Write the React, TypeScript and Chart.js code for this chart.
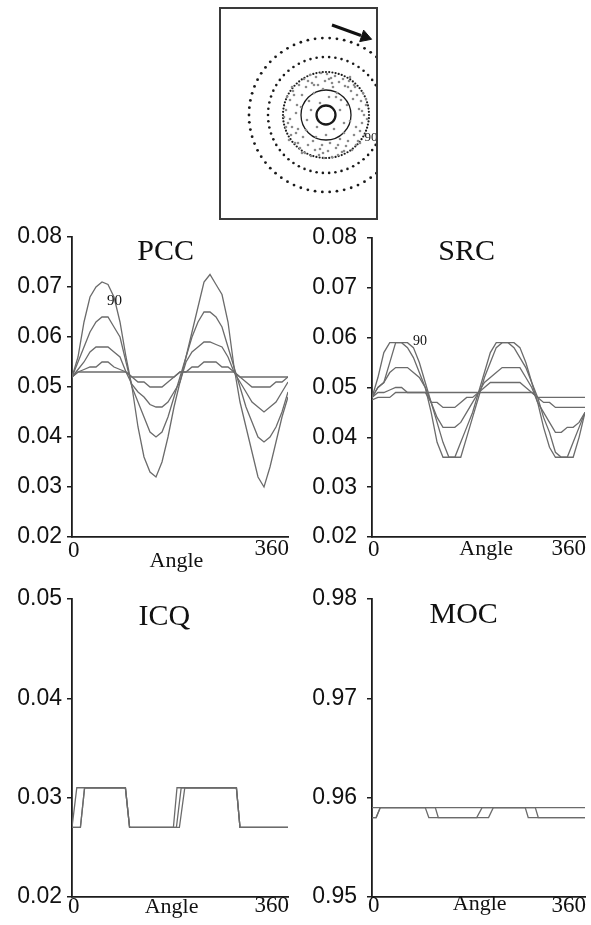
import React, { useEffect, useRef } from "react";
import { Chart, registerables } from "chart.js";
Chart.register(...registerables);

// ---------- data ----------
const angles = [0, 10, 20, 30, 40, 50, 60, 70, 80, 90, 100, 110, 120, 130, 140, 150, 160, 170, 180, 190, 200, 210, 220, 230, 240, 250, 260, 270, 280, 290, 300, 310, 320, 330, 340, 350, 360];

const pccA = [0.052, 0.056, 0.063, 0.068, 0.070, 0.071, 0.0705, 0.068, 0.063, 0.056, 0.050, 0.042, 0.036, 0.033, 0.032, 0.035, 0.040, 0.046, 0.051, 0.056, 0.061, 0.066, 0.071, 0.0725, 0.0705, 0.0685, 0.063, 0.054, 0.047, 0.042, 0.037, 0.032, 0.030, 0.034, 0.039, 0.044, 0.048];
const pccB = [0.052, 0.055, 0.058, 0.061, 0.063, 0.064, 0.064, 0.062, 0.060, 0.055, 0.050, 0.047, 0.044, 0.041, 0.040, 0.041, 0.044, 0.048, 0.052, 0.056, 0.060, 0.063, 0.065, 0.065, 0.064, 0.062, 0.058, 0.054, 0.050, 0.046, 0.043, 0.040, 0.039, 0.040, 0.042, 0.045, 0.049];
const pccC = [0.052, 0.0535, 0.055, 0.057, 0.058, 0.058, 0.058, 0.057, 0.056, 0.053, 0.0505, 0.049, 0.048, 0.0465, 0.046, 0.046, 0.047, 0.049, 0.051, 0.055, 0.057, 0.058, 0.059, 0.059, 0.0585, 0.058, 0.056, 0.053, 0.051, 0.049, 0.047, 0.046, 0.045, 0.046, 0.047, 0.049, 0.051];
const pccD = [0.052, 0.053, 0.0535, 0.054, 0.054, 0.055, 0.055, 0.054, 0.0535, 0.053, 0.052, 0.051, 0.051, 0.050, 0.050, 0.050, 0.051, 0.052, 0.053, 0.053, 0.054, 0.054, 0.055, 0.055, 0.055, 0.054, 0.054, 0.053, 0.052, 0.051, 0.050, 0.050, 0.050, 0.050, 0.051, 0.051, 0.052];
const pccE = [0.052, 0.053, 0.053, 0.053, 0.053, 0.053, 0.053, 0.053, 0.053, 0.053, 0.052, 0.052, 0.052, 0.052, 0.052, 0.052, 0.052, 0.052, 0.053, 0.053, 0.053, 0.053, 0.053, 0.053, 0.053, 0.053, 0.053, 0.053, 0.052, 0.052, 0.052, 0.052, 0.052, 0.052, 0.052, 0.052, 0.052];

const srcA = [0.048, 0.052, 0.057, 0.059, 0.059, 0.059, 0.058, 0.056, 0.053, 0.050, 0.045, 0.039, 0.036, 0.036, 0.036, 0.039, 0.042, 0.045, 0.049, 0.053, 0.057, 0.059, 0.059, 0.059, 0.058, 0.056, 0.054, 0.051, 0.047, 0.042, 0.038, 0.036, 0.036, 0.036, 0.039, 0.042, 0.045];
const srcB = [0.048, 0.050, 0.051, 0.055, 0.059, 0.059, 0.059, 0.058, 0.055, 0.051, 0.047, 0.043, 0.039, 0.036, 0.036, 0.036, 0.040, 0.044, 0.048, 0.052, 0.055, 0.058, 0.059, 0.059, 0.059, 0.058, 0.055, 0.051, 0.048, 0.044, 0.041, 0.037, 0.036, 0.036, 0.036, 0.040, 0.045];
const srcC = [0.048, 0.050, 0.051, 0.053, 0.054, 0.054, 0.054, 0.053, 0.052, 0.050, 0.047, 0.044, 0.042, 0.042, 0.042, 0.043, 0.045, 0.047, 0.049, 0.051, 0.052, 0.053, 0.054, 0.054, 0.054, 0.054, 0.052, 0.050, 0.047, 0.045, 0.043, 0.041, 0.041, 0.042, 0.042, 0.043, 0.045];
const srcD = [0.048, 0.049, 0.049, 0.0495, 0.050, 0.050, 0.049, 0.049, 0.049, 0.049, 0.047, 0.047, 0.046, 0.046, 0.046, 0.047, 0.048, 0.048, 0.049, 0.050, 0.051, 0.051, 0.051, 0.051, 0.051, 0.051, 0.050, 0.049, 0.048, 0.047, 0.047, 0.046, 0.046, 0.046, 0.046, 0.046, 0.046];
const srcE = [0.0475, 0.048, 0.048, 0.048, 0.049, 0.049, 0.049, 0.049, 0.049, 0.049, 0.049, 0.049, 0.049, 0.049, 0.049, 0.049, 0.049, 0.049, 0.049, 0.049, 0.049, 0.049, 0.049, 0.049, 0.049, 0.049, 0.049, 0.049, 0.048, 0.048, 0.048, 0.048, 0.048, 0.048, 0.048, 0.048, 0.048];

const icq1Angles = [0, 8, 89, 96, 169, 175, 274, 280, 360];
const icq1Values = [0.027, 0.031, 0.031, 0.027, 0.027, 0.031, 0.031, 0.027, 0.027];
const icq2Angles = [0, 14, 21, 89, 96, 174, 182, 274, 280, 360];
const icq2Values = [0.027, 0.027, 0.031, 0.031, 0.027, 0.027, 0.031, 0.031, 0.027, 0.027];
const icq3Angles = [0, 14, 21, 89, 96, 179, 188, 274, 280, 360];
const icq3Values = [0.027, 0.027, 0.031, 0.031, 0.027, 0.027, 0.031, 0.031, 0.027, 0.027];

const moc1Angles = [0, 360];
const moc1Values = [0.959, 0.959];
const moc2Angles = [0, 7, 14, 90, 96, 177, 186, 259, 264, 360];
const moc2Values = [0.958, 0.958, 0.959, 0.959, 0.958, 0.958, 0.959, 0.959, 0.958, 0.958];
const moc3Angles = [0, 7, 14, 107, 112, 197, 205, 276, 281, 360];
const moc3Values = [0.958, 0.958, 0.959, 0.959, 0.958, 0.958, 0.959, 0.959, 0.958, 0.958];

// inset schematic
const ringRadii = [77, 58, 43];
const ringDotCounts = [66, 58, 84];
const ringDotSizes = [1.4, 1.3, 1.1];
const solidRingRadii = [25, 9.5];
const solidRingWidths = [1.3, 2.3];
const grayDots: [number, number][] = [
  [-40, 5], [-38, -8], [-36, 15], [-35, -20], [-33, 24], [-31, -28], [-30, 2], [-29, 10], [-28, -14], [-27, 30],
  [-26, -33], [-24, 20], [-23, -22], [-22, 36], [-21, -38], [-20, 28], [-19, -5], [-18, -30], [-17, 14], [-16, 40],
  [-15, -41], [-14, 32], [-13, -26], [-12, 22], [-11, -35], [-10, 38], [-9, -12], [-8, 30], [-7, -40], [-6, 12],
  [-5, 42], [-4, -30], [-3, 26], [-2, -43], [-1, 34], [0, -20], [1, 41], [2, -36], [3, 18], [4, -28],
  [5, 37], [6, -42], [7, 28], [8, -14], [9, 39], [10, -33], [11, 22], [12, -40], [13, 33], [14, -24],
  [15, 15], [16, -37], [17, 36], [18, -18], [19, 29], [20, -31], [21, 10], [22, -26], [23, 34], [24, -6],
  [25, 24], [26, -35], [27, 16], [28, -20], [29, 28], [30, -12], [31, 20], [32, -26], [33, 6], [34, -16],
  [35, 14], [36, -8], [37, 22], [38, 0], [39, -20], [40, 10], [41, -4], [-42, -2], [-39, 18], [-37, -25],
  [-34, -12], [-32, 20], [-25, 8], [-20, -15], [-15, 5], [14, 5], [18, -8], [22, 28], [-28, -28], [28, 30],
  [-10, -22], [10, 18], [-30, -18], [30, -30], [-18, 34], [18, -36], [-6, -34], [6, 32], [-36, -4], [36, 4],
  [-24, -38], [24, 38], [-34, 28], [34, -28], [-12, 30], [12, -30], [-40, -12], [40, 16], [-3, -38], [3, 36],
];
const arrowX = [6, 35];
const arrowY = [90, 79.5];
const arrowHead = [39, 78];

// ---------- styling ----------
const SERIF = '"Liberation Serif", "Times New Roman", serif';
const SANS = '"Liberation Sans", Arial, sans-serif';
const LINE = "#6b6b6b";
const AXIS = "#1c1c1c";

type Series = { x: number[]; y: number[] };
type Note = { text: string; x: number; y: number; size: number };

type PanelProps = {
  left: number; top: number; width: number; height: number;
  padTop: number; padRight: number; yAxisW: number; xAxisH: number;
  yMin: number; yMax: number; tickPad: number;
  series: Series[];
  title: string; titleAngle: number; titleDy: number;
  zeroDy: number; endDy: number; angleDy: number; angleAt: number;
  notes: Note[];
};

function Panel(p: PanelProps) {
  const ref = useRef<HTMLCanvasElement>(null);
  useEffect(() => {
    const textPlugin = {
      id: "texts",
      afterDraw(chart: any) {
        const ctx = chart.ctx;
        const xs = chart.scales.x;
        const ys = chart.scales.y;
        const ca = chart.chartArea;
        ctx.save();
        ctx.fillStyle = "#111";
        ctx.textBaseline = "alphabetic";
        ctx.font = `30px ${SERIF}`;
        ctx.textAlign = "center";
        ctx.fillText(p.title, xs.getPixelForValue(p.titleAngle), ca.top + p.titleDy);
        ctx.font = `23px ${SERIF}`;
        ctx.textAlign = "left";
        ctx.fillText("0", xs.getPixelForValue(0) - 4, ca.bottom + p.zeroDy);
        ctx.textAlign = "right";
        ctx.fillText("360", xs.getPixelForValue(360) + 1, ca.bottom + p.endDy);
        ctx.font = `22px ${SERIF}`;
        ctx.textAlign = "center";
        ctx.fillText("Angle", xs.getPixelForValue(p.angleAt), ca.bottom + p.angleDy);
        for (const n of p.notes) {
          ctx.font = `${n.size}px ${SERIF}`;
          ctx.textAlign = "center";
          ctx.textBaseline = "middle";
          ctx.fillText(n.text, xs.getPixelForValue(n.x), ys.getPixelForValue(n.y));
        }
        ctx.restore();
      },
    };
    const chart = new Chart(ref.current!, {
      type: "scatter",
      data: {
        datasets: p.series.map((s) => ({
          data: s.x.map((a, i) => ({ x: a, y: s.y[i] })),
          showLine: true,
          borderColor: LINE,
          backgroundColor: LINE,
          borderWidth: 1.3,
          pointRadius: 0,
          tension: 0,
          fill: false,
        })),
      },
      options: {
        responsive: false,
        animation: false,
        events: [],
        layout: { autoPadding: false, padding: { top: p.padTop, right: p.padRight, left: 0, bottom: 0 } },
        plugins: { legend: { display: false }, tooltip: { enabled: false }, title: { display: false } },
        scales: {
          x: {
            type: "linear",
            min: 0,
            max: 360,
            ticks: { display: false },
            grid: { display: false },
            border: { display: true, color: AXIS, width: 1.8 },
            afterFit: (s: any) => { s.height = p.xAxisH; },
          },
          y: {
            type: "linear",
            min: p.yMin,
            max: p.yMax,
            ticks: {
              stepSize: 0.01,
              autoSkip: false,
              padding: p.tickPad,
              color: "#111",
              font: { family: SANS, size: 23 },
              callback: (v: any) => Number(v).toFixed(2),
            },
            grid: { display: true, drawOnChartArea: false, drawTicks: true, tickLength: 5, color: AXIS, lineWidth: 1.5 },
            border: { display: true, color: AXIS, width: 1.8 },
            afterFit: (s: any) => { s.width = p.yAxisW; },
          },
        },
      },
      plugins: [textPlugin],
    } as any);
    return () => chart.destroy();
  }, []);
  return (
    <canvas
      ref={ref}
      width={p.width}
      height={p.height}
      style={{ position: "absolute", left: p.left, top: p.top, width: p.width, height: p.height }}
    />
  );
}

function Inset() {
  const ref = useRef<HTMLCanvasElement>(null);
  useEffect(() => {
    const ringSets = ringRadii.map((r, k) => {
      const n = ringDotCounts[k];
      const pts = [];
      for (let i = 0; i < n; i++) {
        const t = (i / n) * Math.PI * 2;
        pts.push({ x: r * Math.cos(t), y: r * Math.sin(t) });
      }
      return {
        data: pts,
        showLine: false,
        pointRadius: ringDotSizes[k],
        pointBackgroundColor: "#1a1a1a",
        pointBorderWidth: 0,
      };
    });
    const solidSets = solidRingRadii.map((r, k) => ({
      data: [{ x: 0, y: 0 }],
      showLine: false,
      pointRadius: r,
      pointBackgroundColor: "rgba(0,0,0,0)",
      pointBorderColor: "#1a1a1a",
      pointBorderWidth: solidRingWidths[k],
    }));
    const notePlugin = {
      id: "insetNote",
      afterDraw(chart: any) {
        const ctx = chart.ctx;
        ctx.save();
        ctx.fillStyle = "#222";
        ctx.font = `13px ${SERIF}`;
        ctx.textAlign = "center";
        ctx.textBaseline = "middle";
        ctx.fillText("90", chart.scales.x.getPixelForValue(45), chart.scales.y.getPixelForValue(-23));
        ctx.restore();
      },
    };
    const chart = new Chart(ref.current!, {
      type: "scatter",
      data: {
        datasets: [
          {
            data: grayDots.map(([x, y]) => ({ x, y })),
            showLine: false,
            pointRadius: 1.3,
            pointBackgroundColor: "#8a8a8a",
            pointBorderWidth: 0,
          },
          ...ringSets,
          ...solidSets,
          {
            data: arrowX.map((x, i) => ({ x, y: arrowY[i] })),
            showLine: true,
            borderColor: "#111",
            borderWidth: 3,
            pointRadius: 0,
          },
          {
            data: [{ x: arrowHead[0], y: arrowHead[1] }],
            showLine: false,
            pointStyle: "triangle",
            rotation: 109,
            pointRadius: 7,
            pointBackgroundColor: "#111",
            pointBorderColor: "#111",
            pointBorderWidth: 1,
          },
        ],
      },
      options: {
        responsive: false,
        animation: false,
        events: [],
        layout: { autoPadding: false, padding: 0 },
        plugins: { legend: { display: false }, tooltip: { enabled: false } },
        scales: {
          x: { type: "linear", min: -105, max: 50, display: false },
          y: { type: "linear", min: -103, max: 106, display: false },
        },
      },
      plugins: [notePlugin],
    } as any);
    return () => chart.destroy();
  }, []);
  return (
    <div
      style={{
        position: "absolute",
        left: 219,
        top: 7,
        width: 155,
        height: 209,
        border: "2px solid #3a3a3a",
        background: "#fff",
      }}
    >
      <canvas ref={ref} width={155} height={209} style={{ display: "block", width: 155, height: 209 }} />
    </div>
  );
}

export default function App() {
  const pccSeries: Series[] = [pccA, pccB, pccC, pccD, pccE].map((y) => ({ x: angles, y }));
  const srcSeries: Series[] = [srcA, srcB, srcC, srcD, srcE].map((y) => ({ x: angles, y }));
  const icqSeries: Series[] = [
    { x: icq1Angles, y: icq1Values },
    { x: icq2Angles, y: icq2Values },
    { x: icq3Angles, y: icq3Values },
  ];
  const mocSeries: Series[] = [
    { x: moc1Angles, y: moc1Values },
    { x: moc2Angles, y: moc2Values },
    { x: moc3Angles, y: moc3Values },
  ];
  return (
    <div style={{ position: "absolute", left: 0, top: 0, width: 591, height: 925, background: "#fff", overflow: "hidden" }}>
      <Inset />
      <Panel
        left={0} top={212} width={295} height={363}
        padTop={25} padRight={7} yAxisW={72} xAxisH={38}
        yMin={0.02} yMax={0.08} tickPad={5}
        series={pccSeries}
        title="PCC" titleAngle={156} titleDy={23}
        zeroDy={20} endDy={18} angleDy={30} angleAt={174}
        notes={[{ text: "90", x: 71, y: 0.0672, size: 15 }]}
      />
      <Panel
        left={300} top={212} width={291} height={363}
        padTop={26} padRight={6} yAxisW={72} xAxisH={38}
        yMin={0.02} yMax={0.08} tickPad={10}
        series={srcSeries}
        title="SRC" titleAngle={160} titleDy={22}
        zeroDy={19} endDy={18} angleDy={18} angleAt={193}
        notes={[{ text: "90", x: 81, y: 0.0592, size: 14 }]}
      />
      <Panel
        left={0} top={575} width={295} height={350}
        padTop={24} padRight={7} yAxisW={72} xAxisH={28}
        yMin={0.02} yMax={0.05} tickPad={5}
        series={icqSeries}
        title="ICQ" titleAngle={154} titleDy={26}
        zeroDy={16} endDy={15} angleDy={16} angleAt={166}
        notes={[]}
      />
      <Panel
        left={300} top={575} width={291} height={350}
        padTop={24} padRight={6} yAxisW={72} xAxisH={28}
        yMin={0.95} yMax={0.98} tickPad={10}
        series={mocSeries}
        title="MOC" titleAngle={155} titleDy={24}
        zeroDy={15} endDy={15} angleDy={13} angleAt={182}
        notes={[]}
      />
    </div>
  );
}
